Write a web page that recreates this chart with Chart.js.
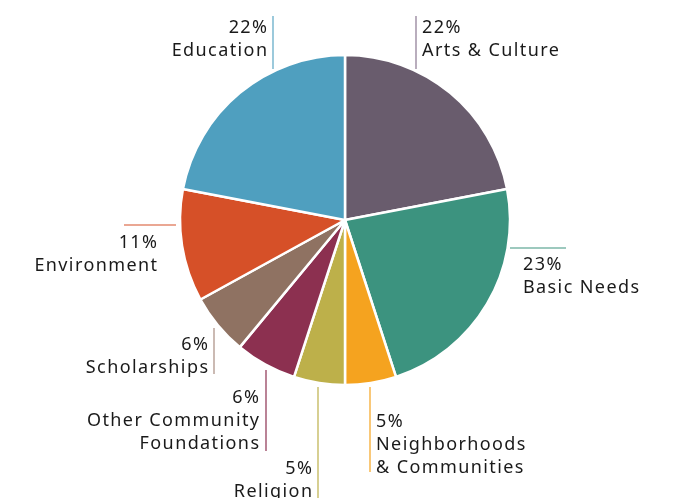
<!DOCTYPE html>
<html>
<head>
<meta charset="utf-8">
<script src="https://cdn.jsdelivr.net/npm/chart.js@4/dist/chart.umd.min.js"></script>
<style>
  html, body { margin: 0; padding: 0; background: #fff; }
  #wrap { width: 677px; height: 498px; }
</style>
</head>
<body>
<div id="wrap"><canvas id="pie" width="677" height="498"></canvas></div>
<script>
const categories = [
    'Arts & Culture',
    'Basic Needs',
    'Neighborhoods & Communities',
    'Religion',
    'Other Community Foundations',
    'Scholarships',
    'Environment',
    'Education'
];
const shares = [22, 23, 5, 5, 6, 6, 11, 22];
const colors = [
    '#695c6d',
    '#3c937f',
    '#f5a31f',
    '#bdb04a',
    '#8c3050',
    '#8f7262',
    '#d65028',
    '#4f9fbf'
];

// hand placed call-outs: text lines, anchor, alignment and leader line
const callouts = [
    { lines: ['22%', 'Arts & Culture'], x: 422, y: 33, align: 'left', line: [416, 16, 416, 69], lineColor: '#8a7791' },
    { lines: ['23%', 'Basic Needs'], x: 523, y: 270, align: 'left', line: [510, 248, 566, 248] },
    { lines: ['5%', 'Neighborhoods', '& Communities'], x: 376, y: 427, align: 'left', line: [370, 387, 370, 472] },
    { lines: ['5%', 'Religion'], x: 312, y: 474, align: 'right', line: [318, 387, 318, 498] },
    { lines: ['6%', 'Other Community', 'Foundations'], x: 259, y: 403, align: 'right', line: [266, 370, 266, 451] },
    { lines: ['6%', 'Scholarships'], x: 208, y: 350, align: 'right', line: [214, 328, 214, 374], lineColor: '#a88c80' },
    { lines: ['11%', 'Environment'], x: 157, y: 248, align: 'right', line: [124, 225, 176, 225] },
    { lines: ['22%', 'Education'], x: 267, y: 33, align: 'right', line: [273, 16, 273, 69], lineColor: '#5aa6c4' }
];

const calloutPlugin = {
    id: 'callouts',
    afterDraw(chart) {
        const ctx = chart.ctx;
        ctx.save();
        callouts.forEach((c, i) => {
            ctx.strokeStyle = c.lineColor || colors[i];
            ctx.lineWidth = 1.2;
            ctx.beginPath();
            ctx.moveTo(c.line[0], c.line[1]);
            ctx.lineTo(c.line[2], c.line[3]);
            ctx.stroke();
            ctx.fillStyle = '#1a1a1a';
            ctx.font = '18px "Noto Sans", sans-serif';
            ctx.letterSpacing = '1.4px';
            ctx.textAlign = c.align;
            ctx.textBaseline = 'alphabetic';
            // letter spacing adds a trailing gap, so shift right-aligned text back
            const dx = c.align === 'right' ? 1.4 : 0;
            c.lines.forEach((t, k) => {
                ctx.fillText(t, c.x + dx, c.y + k * 23);
            });
        });
        ctx.restore();
    }
};

const pieChart = new Chart(document.querySelector('#pie'), {
    type: 'pie',
    data: {
        labels: categories,
        datasets: [{
            data: shares,
            backgroundColor: colors,
            borderColor: '#ffffff',
            borderWidth: 2.5
        }]
    },
    options: {
        responsive: false,
        animation: false,
        radius: 165,
        layout: {
            padding: { top: 55, bottom: 113, left: 180, right: 167 }
        },
        plugins: {
            legend: { display: false },
            tooltip: { enabled: false }
        }
    },
    plugins: [calloutPlugin]
});
</script>
</body>
</html>
